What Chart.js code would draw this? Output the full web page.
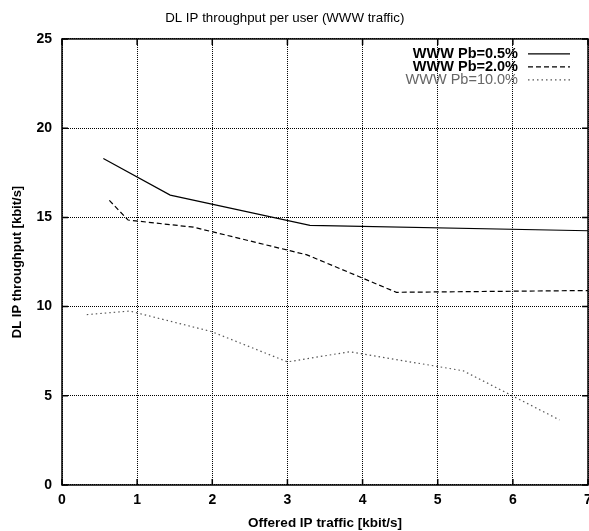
<!DOCTYPE html>
<html>
<head>
<meta charset="utf-8">
<script src="https://cdn.jsdelivr.net/npm/chart.js@4"></script>
<style>
  html, body { margin: 0; padding: 0; background: #fff; }
  #wrap { width: 589px; height: 531px; }
</style>
</head>
<body>
<div id="wrap"><canvas id="myChart" width="589" height="531"></canvas></div>
<script>
// offered traffic [kbit/s] and throughput [kbit/s] per blocking probability
var xPb05 = [0.55, 1.44, 3.30, 7.0];
var yPb05 = [18.3, 16.25, 14.55, 14.25];

var xPb20 = [0.63, 0.88, 1.75, 3.26, 4.45, 7.0];
var yPb20 = [15.95, 14.85, 14.45, 12.9, 10.8, 10.9];

var xPb100 = [0.33, 0.90, 1.99, 3.0, 3.83, 5.34, 6.62];
var yPb100 = [9.55, 9.75, 8.6, 6.9, 7.47, 6.4, 3.65];

var labels = ["WWW Pb=0.5%", "WWW Pb=2.0%", "WWW Pb=10.0%"];
var xTicks = [0, 1, 2, 3, 4, 5, 6, 7];
var yTicks = [0, 5, 10, 15, 20, 25];

function pts(xs, ys) {
    return xs.map(function (x, i) { return { x: x, y: ys[i] }; });
}

var FONT = "'Liberation Sans', Arial, sans-serif";

var lineStyles = [
    { color: "#000", dash: [], width: 1.2 },
    { color: "#000", dash: [5, 3], width: 1.2 },
    { color: "#555", dash: [1.5, 3], width: 1.2 }
];

// gnuplot style legend (text right, sample after) + frame with inside ticks
var gnuplotLook = {
    id: "gnuplotLook",
    afterDraw: function (chart) {
        var ctx = chart.ctx;
        var a = chart.chartArea;
        var xs = chart.scales.x, ys = chart.scales.y;
        ctx.save();
        // frame
        ctx.strokeStyle = "#000";
        ctx.lineWidth = 1.5;
        ctx.setLineDash([]);
        ctx.strokeRect(a.left, a.top, a.right - a.left, a.bottom - a.top);
        // inside ticks
        xTicks.forEach(function (v) {
            var px = xs.getPixelForValue(v);
            ctx.beginPath();
            ctx.moveTo(px, a.bottom); ctx.lineTo(px, a.bottom - 6);
            ctx.moveTo(px, a.top); ctx.lineTo(px, a.top + 6);
            ctx.stroke();
        });
        yTicks.forEach(function (v) {
            var py = ys.getPixelForValue(v);
            ctx.beginPath();
            ctx.moveTo(a.left, py); ctx.lineTo(a.left + 6, py);
            ctx.moveTo(a.right, py); ctx.lineTo(a.right - 6, py);
            ctx.stroke();
        });
        // legend
        var textRight = a.right - 70;
        var y0 = a.top + 15;
        labels.forEach(function (lab, i) {
            var y = y0 + i * 13;
            var st = lineStyles[i];
            ctx.font = (i < 2 ? "bold " : "") + "14.5px " + FONT;
            ctx.fillStyle = i < 2 ? "#000" : "#666";
            ctx.textAlign = "right";
            ctx.textBaseline = "middle";
            ctx.fillText(lab, textRight, y);
            ctx.beginPath();
            ctx.strokeStyle = st.color;
            ctx.lineWidth = st.width;
            ctx.setLineDash(st.dash);
            ctx.moveTo(textRight + 10, y);
            ctx.lineTo(textRight + 52, y);
            ctx.stroke();
        });
        ctx.restore();
    }
};

var datasets = [pts(xPb05, yPb05), pts(xPb20, yPb20), pts(xPb100, yPb100)].map(function (d, i) {
    return {
        label: labels[i],
        data: d,
        borderColor: lineStyles[i].color,
        borderDash: lineStyles[i].dash,
        borderWidth: lineStyles[i].width,
        pointRadius: 0,
        fill: false,
        tension: 0
    };
});

var ctx = document.getElementById("myChart").getContext("2d");

var myChart = new Chart(ctx, {
    type: "line",
    data: { datasets: datasets },
    plugins: [gnuplotLook],
    options: {
        responsive: false,
        animation: false,
        layout: { padding: { left: 0, right: 1, top: 0, bottom: 0 } },
        plugins: {
            legend: { display: false },
            tooltip: { enabled: false },
            title: {
                display: true,
                // trailing spaces nudge the centred title a bit to the left, like the original
                text: "DL IP throughput per user (WWW traffic)     ",
                color: "#000",
                font: { family: FONT, size: 13.3, weight: "normal" },
                padding: { top: 10, bottom: 13 }
            }
        },
        scales: {
            x: {
                type: "linear",
                min: 0,
                max: 7,
                afterBuildTicks: function (s) { s.ticks = xTicks.map(function (v) { return { value: v }; }); },
                afterFit: function (s) { s.height = 46; s.paddingLeft = 0; s.paddingRight = 0; },
                grid: { color: "#000", lineWidth: 1, drawTicks: false },
                border: { display: false, dash: [1, 1] },
                ticks: {
                    color: "#000",
                    padding: 7,
                    maxRotation: 0,
                    autoSkip: false,
                    font: { family: FONT, size: 14, weight: "bold" }
                },
                title: {
                    display: true,
                    text: "Offered IP traffic [kbit/s]",
                    color: "#000",
                    padding: { top: 6, bottom: 0 },
                    font: { family: FONT, size: 13.5, weight: "bold" }
                }
            },
            y: {
                type: "linear",
                min: 0,
                max: 25,
                afterBuildTicks: function (s) { s.ticks = yTicks.map(function (v) { return { value: v }; }); },
                afterFit: function (s) { s.width = 62; },
                grid: { color: "#000", lineWidth: 1, drawTicks: false },
                border: { display: false, dash: [1, 1] },
                ticks: {
                    color: "#000",
                    padding: 10,
                    font: { family: FONT, size: 14, weight: "bold" }
                },
                title: {
                    display: true,
                    text: "DL IP throughput [kbit/s]",
                    color: "#000",
                    padding: { top: 10, bottom: 0 },
                    font: { family: FONT, size: 13, weight: "bold" }
                }
            }
        }
    }
});
</script>
</body>
</html>
